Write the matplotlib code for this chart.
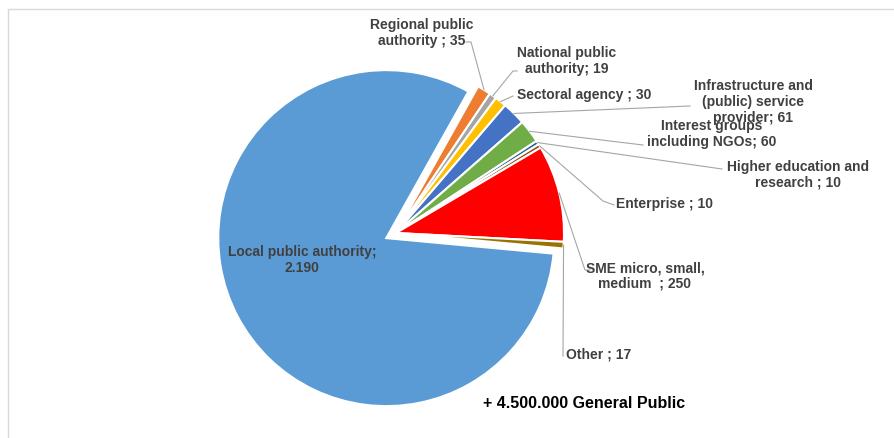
import numpy as np
import matplotlib
matplotlib.use("Agg")
import matplotlib.pyplot as plt
from matplotlib.patches import Rectangle

# stakeholder groups and their counts
groups = [
    "Local public authority", "Regional public authority", "National public authority",
    "Sectoral agency", "Infrastructure and (public) service provider",
    "Interest groups including NGOs", "Higher education and research",
    "Enterprise", "SME micro, small, medium", "Other",
]
counts = [2190, 35, 19, 30, 61, 60, 10, 10, 250, 17]
labels = [
    "Local public authority;\n2.190", "Regional public\nauthority ; 35",
    "National public\nauthority; 19", "Sectoral agency ; 30",
    "Infrastructure and\n(public) service\nprovider; 61",
    "Interest groups\nincluding NGOs; 60", "Higher education and\nresearch ; 10",
    "Enterprise ; 10", "SME micro, small,\nmedium  ; 250", "Other ; 17",
]
colors = ["#5b9bd5", "#ed7d31", "#a5a5a5", "#ffc000", "#4472c4",
          "#70ad47", "#255e91", "#9e480e", "#ff0000", "#997300"]
footnote = "+ 4.500.000 General Public"

W, H = 894, 439
plt.rcParams["font.family"] = ["Liberation Sans", "DejaVu Sans"]

fig = plt.figure(figsize=(W / 100, H / 100), dpi=100)
ax = fig.add_axes([0, 0, 1, 1])

# work in pixel units, y measured from the top
cx, cy, R = 396, 234, 168
start = -5.3
wedges, _ = ax.pie(counts, colors=colors, startangle=start, counterclock=False,
                   radius=R, center=(cx, H - cy), explode=[11] + [0] * 9,
                   wedgeprops=dict(edgecolor="white", linewidth=1.5))
ax.set_xlim(0, W)
ax.set_ylim(0, H)
ax.set_aspect("auto")
ax.axis("off")

# mid angle of every slice -> outer edge point
total = sum(counts)
edges = np.cumsum([0] + counts)
mids = [start - 360 * (edges[i] + edges[i + 1]) / 2 / total for i in range(len(counts))]
def rim(i):
    a = np.deg2rad(mids[i])
    return (cx + R * np.cos(a), H - (cy - R * np.sin(a)))

txt = dict(fontsize=10, fontweight="bold", color="#404040", linespacing=1.15)
lead = dict(color="#a6a6a6", lw=0.8)

# (text position, alignment, elbow points in px)
layout = {
    1: ((422, 33), "center", [(471, 43), (466, 43)]),
    2: ((567, 61), "center", [(513, 72), (517, 72)]),
    3: ((517, 95), "left", [(513, 97)]),
    4: ((753, 102), "center", [(690, 107)]),
    5: ((712, 134), "center", [(643, 146)]),
    6: ((798, 175), "center", [(722, 170)]),
    7: ((616, 204), "left", [(603, 202), (614, 206)]),
    8: ((645, 276), "center", [(585, 271), (590, 271)]),
    9: ((566, 355), "left", [(563, 357)]),
}
for i, ((tx, ty), ha, pts) in layout.items():
    x0, y0 = rim(i)
    xs = [x0] + [p[0] for p in pts]
    ys = [y0] + [H - p[1] for p in pts]
    ax.plot(xs, ys, **lead)
    ax.text(tx, H - ty, labels[i], ha=ha, va="center", multialignment="center", **txt)

ax.text(302, H - 260, labels[0], ha="center", va="center", multialignment="center", **txt)
ax.text(483, H - 404, footnote, ha="left", va="center", fontsize=11.5,
        fontweight="bold", color="black")

# chart frame
fig.patches.append(Rectangle((7.5 / W, -0.1), 1.2, (H - 9.5) / H + 0.1,
                             transform=fig.transFigure, fill=False,
                             edgecolor="#d9d9d9", lw=1))

fig.savefig("out.png", dpi=100)
